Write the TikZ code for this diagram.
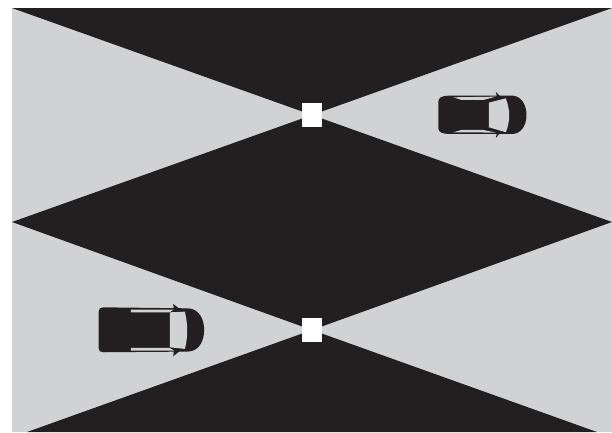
\documentclass[tikz,border=0pt]{standalone}
\definecolor{ink}{RGB}{35,31,32}
\definecolor{road}{RGB}{209,210,211}
\tikzset{
  dark/.style={fill=ink,draw=none},
  light/.style={fill=road,draw=none},
  post/.style={fill=white,draw=none,minimum width=0.2cm,minimum height=0.24cm,inner sep=0pt,outer sep=0pt,rectangle},
}
\begin{document}
\begin{tikzpicture}[x=0.01cm,y=-0.01cm]
\useasboundingbox (0,0) rectangle (612,432);
\fill[light] (12,8) rectangle (612,432);
\fill[dark] (12,8) -- (612,8) -- (312,115) -- cycle;
\fill[dark] (12,222) -- (312,115) -- (612,222) -- (312,330) -- cycle;
\fill[dark] (27,432) -- (312,330) -- (597,432) -- cycle;
\node[post] (p1) at (312,115) {};
\node[post] (p2) at (312,330) {};
% car
\begin{scope}[shift={(420,80)},x=0.00333cm,y=-0.00333cm]
\fill[dark] (55,65) .. controls (56,52) and (66,48) .. (85,47) -- (280,47)
  .. controls (305,50) and (320,75) .. (320,105)
  .. controls (320,135) and (305,160) .. (280,162) -- (85,162)
  .. controls (66,161) and (56,157) .. (55,145) -- cycle;
\fill[dark] (228,36) -- (240,48) -- (232,54) -- cycle;
\fill[dark] (228,174) -- (240,160) -- (232,154) -- cycle;
\fill[light] (207,68) -- (258,55) .. controls (265,75) and (268,90) .. (268,105)
  .. controls (268,122) and (265,140) .. (258,157) -- (207,142) -- cycle;
\fill[light] (100,52) -- (228,50) -- (190,60) -- (125,60) -- cycle;
\fill[light] (100,157) -- (228,158) -- (190,150) -- (125,150) -- cycle;
\end{scope}
% van
\begin{scope}[shift={(85,295)},x=0.00333cm,y=-0.00333cm]
\fill[dark] (41,50) .. controls (41,41) and (46,37) .. (55,37) -- (310,40)
  .. controls (345,42) and (358,75) .. (358,105)
  .. controls (358,135) and (345,168) .. (310,170) -- (55,172)
  .. controls (46,172) and (41,168) .. (41,160) -- cycle;
\fill[dark] (265,27) -- (285,42) -- (268,50) -- cycle;
\fill[dark] (265,184) -- (285,168) -- (268,160) -- cycle;
\fill[light] (255,52) -- (300,50) .. controls (305,70) and (307,90) .. (307,105)
  .. controls (307,125) and (305,145) .. (300,162) -- (255,157) -- cycle;
\fill[light] (138,44) -- (266,44) -- (254,52) -- (138,52) -- cycle;
\fill[light] (138,159) -- (254,159) -- (268,167) -- (138,167) -- cycle;
\end{scope}
\end{tikzpicture}
\end{document}
